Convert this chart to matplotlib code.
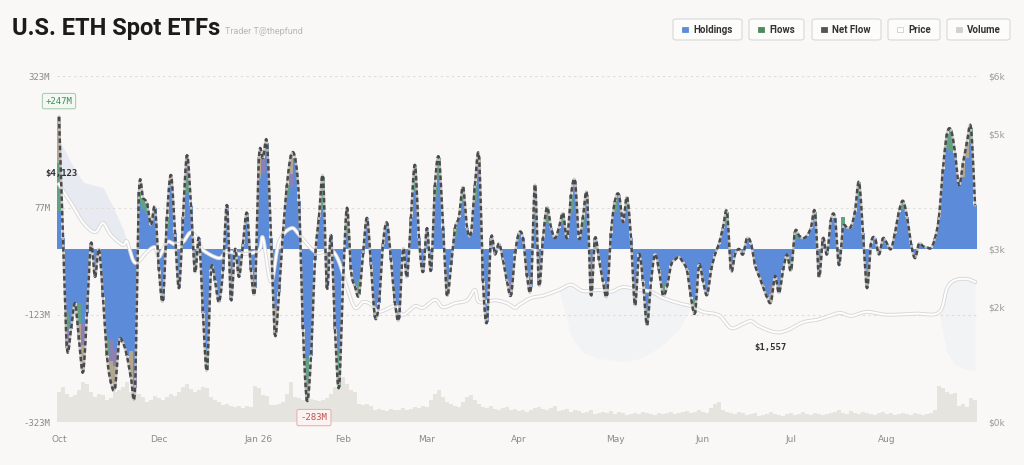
import numpy as np
import matplotlib
matplotlib.use("Agg")
import matplotlib.pyplot as plt
import matplotlib.patheffects as pe
from matplotlib.patches import FancyBboxPatch, Rectangle

# daily net flow, $M (one bar per trading day, Oct -> end of Aug)
net_flow = [
    247, 20, -185, -150, -101, -170, -230, -120, 11, -52,
    0, -90, -200, -250, -259, -173, -175, -200, -240, -259,
    106, 95, 85, 45, 77, -40, -95, 60, 138, 30,
    -73, 60, 175, 80, -43, 20, -120, -226, -40, -60,
    -99, -40, 82, -95, 0, -52, 10, 67, -40, -73,
    172, 170, 198, 20, -160, -80, 30, 120, 175, 170,
    90, -150, -283, -200, -20, 60, 134, -73, 26, -150,
    -258, -60, 77, -40, -70, -86, -10, 58, -30, -127,
    -100, 10, 49, -20, -100, -129, 0, -52, 60, 157,
    20, -43, 39, -40, 120, 170, 40, -86, -30, 39,
    60, 116, 40, 30, 120, 172, -60, -136, 20, -10,
    10, -20, -60, -86, -10, 30, 20, -50, -71, 120,
    -67, 20, 78, 40, 20, 40, 67, 20, 100, 127,
    20, 60, 101, -86, 20, -20, -60, -86, 30, 90,
    101, 50, 97, 20, -105, -10, -60, -142, -60, -10,
    -40, -86, -70, -30, -20, -15, -25, -40, -90, -119,
    -30, -60, -86, -40, -10, 10, 40, 69, -39, -10,
    0, -10, 20, 10, -30, -50, -70, -90, -99, -50,
    -82, -40, -10, -40, 32, 25, 20, 25, 40, 69,
    -52, 20, -10, 55, 58, -30, 40, 40, 42, 70,
    125, 30, -73, 10, 20, -10, 20, 10, 0, 30,
    70, 90, 60, 10, -17, 10, 5, 3, 2, 20,
    60, 150, 215, 222, 180, 119, 160, 200, 226, 82,
]

# parts of some bars that are not holdings ($M, day -> value)
flows_part = {0: 90, 2: -30, 5: -40, 12: -30, 20: 20, 21: 20, 22: 20, 27: 20,
              32: 30, 37: -40, 47: 15, 57: 20, 62: -80, 66: 60, 70: -70, 72: 40,
              75: -30, 89: 50, 94: 25, 95: 40, 99: 15, 101: 30, 104: 30,
              119: 25, 122: 30, 126: 20, 128: 30, 131: 20, 139: 20, 142: 25,
              144: -20, 147: -30, 151: -20, 159: -25, 167: 25, 183: -20,
              184: 15, 189: 15, 196: -20, 200: 30, 202: -25, 211: 15, 222: 30,
              223: 40, 228: 30}
purple_part = {2: -35, 6: -40, 13: -40, 14: -30, 19: -30, 32: 40, 51: 30,
               58: 25, 105: 20, 113: -30, 129: 15, 178: -15}
tan_part = {0: 86, 5: -30, 6: -50, 13: -40, 14: -40, 18: -50, 28: 20,
            50: 40, 54: -50, 58: 35, 72: 10, 105: 20, 132: 15, 178: -15,
            226: 25, 227: 30}

# trading volume (relative units)
volume = [
    30, 35, 28, 25, 27, 32, 40, 38, 30, 25,
    28, 27, 22, 24, 30, 32, 35, 40, 30, 33,
    28, 25, 20, 22, 26, 24, 22, 25, 28, 26,
    30, 35, 38, 33, 30, 32, 35, 34, 25, 22,
    20, 17, 18, 16, 15, 16, 14, 16, 15, 36,
    34, 27, 26, 17, 17, 18, 20, 28, 40, 25,
    24, 22, 22, 23, 22, 21, 22, 24, 28, 35,
    40, 45, 38, 32, 30, 18, 17, 18, 16, 12,
    13, 12, 11, 13, 12, 12, 14, 12, 13, 15,
    14, 16, 15, 22, 28, 32, 25, 20, 18, 16,
    15, 20, 25, 27, 22, 18, 15, 14, 16, 13,
    12, 14, 15, 12, 13, 11, 12, 10, 12, 14,
    15, 13, 12, 14, 16, 11, 12, 13, 10, 12,
    11, 9, 10, 12, 8, 9, 10, 9, 11, 8,
    10, 9, 7, 8, 9, 8, 10, 9, 8, 7,
    9, 8, 9, 10, 8, 9, 10, 11, 9, 10,
    12, 10, 9, 14, 18, 20, 12, 10, 9, 8,
    10, 9, 7, 8, 9, 6, 7, 8, 10, 8,
    7, 6, 8, 9, 7, 8, 10, 8, 7, 9,
    8, 7, 8, 9, 10, 12, 9, 8, 11, 9,
    8, 10, 9, 8, 7, 9, 10, 8, 9, 7,
    8, 9, 8, 7, 9, 8, 7, 8, 9, 12,
    36, 34, 30, 28, 29, 16, 18, 15, 24, 22,
]

# ETH price, sampled on some of the days
price_day = [0, 3, 6, 9, 11, 13, 16, 17, 19, 22, 24, 25, 27, 29, 31, 33, 35, 36,
             40, 42, 46, 50, 51, 53, 55, 58, 60, 63, 65, 68, 70, 72, 74, 76, 78,
             80, 84, 86, 89, 91, 94, 96, 99, 102, 104, 105, 109, 112, 114, 115,
             118, 121, 125, 128, 131, 135, 138, 141, 145, 148, 151, 155, 158,
             161, 165, 168, 171, 173, 175, 179, 182, 186, 190, 195, 198, 202,
             207, 214, 220, 222, 224, 227, 229]
price_usd = [4123, 3800, 3460, 3290, 3450, 3240, 3070, 3130, 2760, 2950, 3030,
             2860, 3120, 3080, 3120, 3290, 3120, 2980, 2840, 2950, 2910, 2980,
             3190, 2430, 3120, 3360, 3250, 3010, 2930, 2980, 2780, 2330, 1980,
             2080, 2040, 1910, 2010, 1860, 2010, 1980, 2120, 1990, 2060, 2110,
             2290, 2080, 2110, 2060, 1980, 2030, 2150, 2190, 2290, 2380, 2270,
             2290, 2260, 2340, 2290, 2260, 2150, 2060, 2010, 1910, 1850, 1630,
             1700, 1750, 1660, 1557, 1590, 1730, 1780, 1890, 1840, 1910, 1860,
             1880, 1900, 2320, 2460, 2480, 2430]

# price range bands
band_hi_day = [0, 3, 6, 9, 11, 13, 16, 17]
band_hi_usd = [4900, 4500, 4160, 4100, 4070, 3800, 3350, 3130]
band_lo_day = [125, 128, 131, 135, 138, 141, 145, 148, 151, 155, 158,
               220, 222, 224, 227, 229]
band_lo_usd = [2290, 1500, 1200, 1100, 1080, 1050, 1100, 1200, 1350, 1600, 2010,
               1900, 1200, 1000, 900, 900]

tick_day = [0, 25, 50, 71, 92, 115, 139, 161, 183, 207]
tick_labels = ['Oct', 'Dec', 'Jan 26', 'Feb', 'Mar', 'Apr', 'May', 'Jun', 'Jul', 'Aug']

flow_ticks = [323, 77, -123, -323]
price_ticks = [6000, 5000, 3000, 2000, 0]

legend_labels = ['Holdings', 'Flows', 'Net Flow', 'Price', 'Volume']

BG = '#f9f8f6'
BLUE = '#5b8bd9'
GREEN = '#62a283'
PURPLE = '#8c80b5'
TAN = '#b3a68e'


def smooth(xs, ys, n=10):
    # catmull-rom curve through the points
    xs = np.asarray(xs, float)
    ys = np.asarray(ys, float)
    px = np.concatenate([[xs[0]], xs, [xs[-1]]])
    py = np.concatenate([[ys[0]], ys, [ys[-1]]])
    t = np.linspace(0, 1, n, endpoint=False)[:, None]
    outx, outy = [], []
    for k in range(len(xs) - 1):
        for p, out in ((px, outx), (py, outy)):
            p0, p1, p2, p3 = p[k], p[k + 1], p[k + 2], p[k + 3]
            v = 0.5 * (2 * p1 + (-p0 + p2) * t + (2 * p0 - 5 * p1 + 4 * p2 - p3) * t ** 2
                       + (-p0 + 3 * p1 - 3 * p2 + p3) * t ** 3)
            out.extend(v.ravel())
    outx.append(xs[-1])
    outy.append(ys[-1])
    return np.array(outx), np.array(outy)


N = len(net_flow)
days = np.arange(N)
net = np.array(net_flow, float)
g = np.zeros(N)
pu = np.zeros(N)
ta = np.zeros(N)
for d, v in flows_part.items():
    g[d] = v
for d, v in purple_part.items():
    pu[d] = v
for d, v in tan_part.items():
    ta[d] = v
blue = net - g - pu - ta

W, H = 1024, 465
fig = plt.figure(figsize=(W / 100, H / 100), dpi=100, facecolor=BG)
rect = [57 / W, 43 / H, 920 / W, 346 / H]

ax_v = fig.add_axes(rect)
ax_v.set_facecolor(BG)
ax_band = ax_v.twinx()
ax = ax_v.twinx()
ax_p = ax_v.twinx()
ax_n = ax_v.twinx()
for z, a in enumerate([ax_v, ax_band, ax, ax_p, ax_n]):
    a.set_zorder(z)
    for s in a.spines.values():
        s.set_visible(False)
ax_v.set_xlim(-0.5, N - 0.5)

# volume
ax_v.bar(days, volume, width=0.8, color='#e2dfda', alpha=0.8, linewidth=0)
ax_v.set_ylim(0, 346)
ax_v.set_yticks([])
ax_v.set_xticks(tick_day, tick_labels)
ax_v.tick_params(axis='x', length=0, pad=9, labelsize=6.5, labelcolor='#8a8a8a')

# price bands
ax_band.set_ylim(0, 6000)
ax_band.set_yticks([])
price_at = dict(zip(price_day, price_usd))
ax_band.fill_between(band_hi_day, [price_at[d] for d in band_hi_day], band_hi_usd,
                     color='#e3e8f0', alpha=0.8, linewidth=0)
lo_hi = [price_at[d] for d in band_lo_day]
split = band_lo_day.index(220)
ax_band.fill_between(band_lo_day[:split], band_lo_usd[:split], lo_hi[:split],
                     color='#edf0f5', alpha=0.6, linewidth=0)
ax_band.fill_between(band_lo_day[split:], band_lo_usd[split:], lo_hi[split:],
                     color='#edf0f5', alpha=0.6, linewidth=0)

# stacked flow bars
bw = 0.84
ax.bar(days, blue, width=bw, color=BLUE, linewidth=0)
ax.bar(days, g, bottom=blue, width=bw, color=GREEN, linewidth=0)
ax.bar(days, pu, bottom=blue + g, width=bw, color=PURPLE, linewidth=0)
ax.bar(days, ta, bottom=blue + g + pu, width=bw, color=TAN, linewidth=0)
ax.set_ylim(-323, 323)
ax.yaxis.tick_left()
ax.set_yticks(flow_ticks, [f'{v}M' for v in flow_ticks])
ax.tick_params(axis='y', length=0, pad=5, labelsize=6.5, labelcolor='#8a8a8a')
for lab in ax.get_yticklabels():
    lab.set_family('DejaVu Sans Mono')
ax.set_axisbelow(True)
ax.grid(axis='y', color='#dedcd8', linestyle=(0, (2, 3)), linewidth=0.8)

imax = int(np.argmax(net))
imin = int(np.argmin(net))
ax.annotate(f'+{net[imax]:.0f}M', xy=(imax, net[imax]), xytext=(0, 8),
            textcoords='offset points', ha='center', va='bottom',
            fontsize=6.5, family='DejaVu Sans Mono', color='#3f8f55',
            bbox=dict(boxstyle='round,pad=0.35,rounding_size=0.2', fc='#f3f8f3',
                      ec='#a9cfb0', lw=0.8))
ax.annotate(f'{net[imin]:.0f}M', xy=(imin, net[imin]), xytext=(5, -9),
            textcoords='offset points', ha='center', va='top',
            fontsize=6.5, family='DejaVu Sans Mono', color='#c0504d',
            bbox=dict(boxstyle='round,pad=0.4,rounding_size=0.2', fc='#fbf3f2',
                      ec='#e5b5b0', lw=0.8))

# price line
sx, sy = smooth(price_day, price_usd)
ax_p.plot(sx, sy, color='white', lw=1.4,
          path_effects=[pe.Stroke(linewidth=2.8, foreground='#d9d9d9'), pe.Normal()])
ax_p.set_ylim(0, 6000)
ax_p.set_yticks(price_ticks, [f'${v // 1000}k' for v in price_ticks])
ax_p.tick_params(axis='y', length=0, pad=8, labelsize=6.5, labelcolor='#9a9a9a')
pmin = int(np.argmin(price_usd))
ax_p.annotate(f'${price_usd[0]:,}', xy=(price_day[0], price_usd[0]), xytext=(-10, 8),
              textcoords='offset points', ha='left', va='center', fontsize=6.5,
              family='DejaVu Sans Mono', weight='bold', color='#333333')
ax_p.annotate(f'${price_usd[pmin]:,}', xy=(price_day[pmin], price_usd[pmin]),
              xytext=(-3, -11), textcoords='offset points', ha='center', va='center',
              fontsize=6.5, family='DejaVu Sans Mono', weight='bold', color='#333333')

# net flow curve
nx, ny = smooth(days, net)
ax_n.plot(nx, ny, color='#c4c4c4', lw=1.8, alpha=0.85)
ax_n.plot(nx, ny, color='#4a4a4a', lw=1.8, linestyle=(0, (1.8, 1.1)))
ax_n.set_ylim(-323, 323)
ax_n.set_yticks([])

# title
fig.text(12 / W, 1 - 28 / H, 'U.S. ETH Spot ETFs', fontsize=17, weight='bold',
         family='Roboto', color='#1b1b1b', va='center')
fig.text(225 / W, 1 - 31 / H, 'Trader T@thepfund', fontsize=6.5, family='Roboto',
         color='#b8b8b8', va='center')

# legend buttons
boxes = [(673, 742), (749, 804), (812, 881), (888, 940), (947, 1010)]
marks = [(BLUE, BLUE), ('#4e8a5c', '#4e8a5c'), ('#555555', '#555555'),
         ('#ffffff', '#cfcfcf'), ('#d3d0cb', '#d3d0cb')]
for (x0, x1), lab, (fc, ec) in zip(boxes, legend_labels, marks):
    fig.patches.append(FancyBboxPatch((x0 / W, 1 - 40 / H), (x1 - x0) / W, 21 / H,
                                      boxstyle='round,pad=0,rounding_size=0.004',
                                      transform=fig.transFigure, fc='#fcfcfb',
                                      ec='#dcdcdc', lw=0.9))
    fig.patches.append(Rectangle(((x0 + 9) / W, 1 - 32.5 / H), 5.5 / W, 5.5 / H,
                                 transform=fig.transFigure, fc=fc, ec=ec, lw=0.6))
    fig.text((x0 + 20) / W, 1 - 30 / H, lab, fontsize=7, weight='bold',
             family='Roboto', color='#333333', va='center')

fig.savefig('out.png', dpi=100, facecolor=BG)
